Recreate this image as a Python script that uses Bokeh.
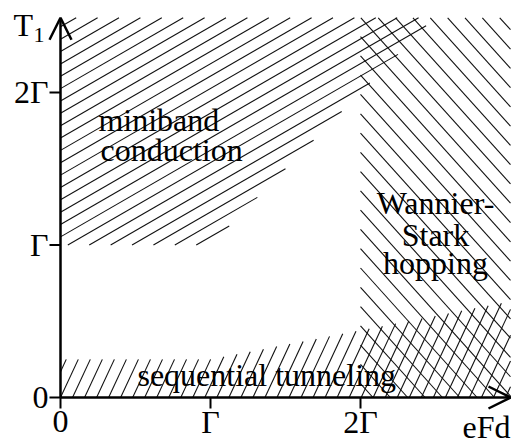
import numpy as np
from bokeh.plotting import figure
from bokeh.models import Arrow, OpenHead, Range1d
from bokeh.core.properties import value
from bokeh.embed import file_html
from bokeh.resources import INLINE

# ---------------- data (energies in units of Gamma) ----------------
tick_values = [0, 1, 2]
tick_labels = ["0", "Γ", "2Γ"]
x_max = 3.0          # eFd axis extent (arrow tip)
y_max = 2.49         # T1 axis extent (arrow tip)

# miniband conduction: T1 above max(Γ, eFd)
miniband_x = [0, 1, y_max, 0]
miniband_y = [1, 1, y_max, y_max]
# Wannier-Stark hopping: eFd above 2Γ
ws_x = [2, x_max, x_max, 2]
ws_y = [0, 0, y_max, y_max]
# sequential tunneling: below this boundary
seq_boundary_x = [0, 1, 3]
seq_boundary_y = [0.25, 0.25, 0.63]

# ---------------- layout / style ----------------
W, H = 511, 446
SX, SY = 150.0, 152.5           # px per unit Γ
X0PX, Y0PX = 60.0, 397.0        # canvas position of the origin
x_lo, x_hi = -X0PX / SX, (W - X0PX) / SX
y_lo, y_hi = -(H - Y0PX) / SY, Y0PX / SY

FONT = "Liberation Serif"
FS = 32
BASE_K = 0.34   # rendered text sits this many em below its anchor: compensate

p = figure(width=W, height=H, output_backend="svg", toolbar_location=None,
           x_range=Range1d(x_lo, x_hi), y_range=Range1d(y_lo, y_hi),
           x_axis_type=None, y_axis_type=None,
           min_border=0, background_fill_color="white", border_fill_color="white")
p.outline_line_color = None
p.grid.visible = False


def hatch(px, py, angle_deg, spacing, phase=0.0):
    P = np.stack([np.asarray(px, float) * SX, np.asarray(py, float) * SY], 1)
    th = np.radians(angle_deg)
    u = np.array([np.cos(th), np.sin(th)])
    n = np.array([-np.sin(th), np.cos(th)])
    proj = P @ n
    start = np.floor((proj.min() - phase) / spacing) * spacing + phase
    cs = np.arange(start, proj.max(), spacing)
    xs, ys = [], []
    m = len(P)
    for c in cs:
        ss = []
        for i in range(m):
            a, b = P[i], P[(i + 1) % m]
            da, db = a @ n - c, b @ n - c
            if (da < 0) != (db < 0):
                t = da / (da - db)
                q = a + t * (b - a)
                ss.append(q @ u)
        ss.sort()
        for k in range(0, len(ss) - 1, 2):
            p0 = c * n + ss[k] * u
            p1 = c * n + ss[k + 1] * u
            xs.append([p0[0] / SX, p1[0] / SX])
            ys.append([p0[1] / SY, p1[1] / SY])
    return xs, ys


seq_x = [0, x_max] + seq_boundary_x[::-1]
seq_y = [0, 0] + seq_boundary_y[::-1]

for (rx, ry, ang, sp) in [(miniband_x, miniband_y, 30, 10.7),
                          (ws_x, ws_y, 132, 12.9),
                          (seq_x, seq_y, 65, 10.9)]:
    hx, hy = hatch(rx, ry, ang, sp)
    p.multi_line(hx, hy, line_color="#111111", line_width=1.1)

# ---------------- axes (drawn with the plot's scales) ----------------
TICK = 11.0
tv = np.array(tick_values, float)
p.segment(x0=tv, y0=np.zeros_like(tv), x1=tv, y1=np.full_like(tv, -TICK / SY),
          line_color="black", line_width=2)
p.segment(x0=np.zeros_like(tv), y0=tv, x1=np.full_like(tv, -TICK / SX), y1=tv,
          line_color="black", line_width=2)
p.add_layout(Arrow(end=OpenHead(size=22, line_width=2.5, line_color="black"),
                   x_start=0, y_start=0, x_end=0, y_end=y_max,
                   line_width=2.5, line_color="black"))
p.add_layout(Arrow(end=OpenHead(size=22, line_width=2.5, line_color="black"),
                   x_start=0, y_start=0, x_end=x_max, y_end=0,
                   line_width=2.5, line_color="black"))


def comp(fs):
    return BASE_K * fs / SY


p.text(x=tv, y=np.full_like(tv, -35.0 / SY + comp(FS)), text=tick_labels,
       text_font=value(FONT), text_font_size=value(f"{FS}px"), text_align="center",
       text_baseline="alphabetic", text_color="black")
p.text(x=np.full_like(tv, -12.0 / SX), y=tv - 10.5 / SY + comp(FS), text=tick_labels,
       text_font=value(FONT), text_font_size=value(f"{FS}px"), text_align="right",
       text_baseline="alphabetic", text_color="black")


def lab(x, y, t, fs=FS, align="left"):
    p.text(x=[x], y=[y + comp(fs)], text=[t], text_font=value(FONT),
           text_font_size=value(f"{fs}px"),
           text_align=align, text_baseline="alphabetic", text_color="black")


lab(0.253, 1.75, "miniband")
lab(0.267, 1.554, "conduction")
lab(2.5, 1.207, "Wannier-", align="center")
lab(2.5, 0.997, "Stark", align="center")
lab(2.5, 0.813, "hopping", align="center")
lab(0.513, 0.079, "sequential tunneling")
lab(-0.313, 2.374, "T")
lab(-0.18, 2.328, "1", fs=22)
lab(2.68, -40.0 / SY, "eFd")

open("out.html", "w").write(file_html(p, INLINE))
